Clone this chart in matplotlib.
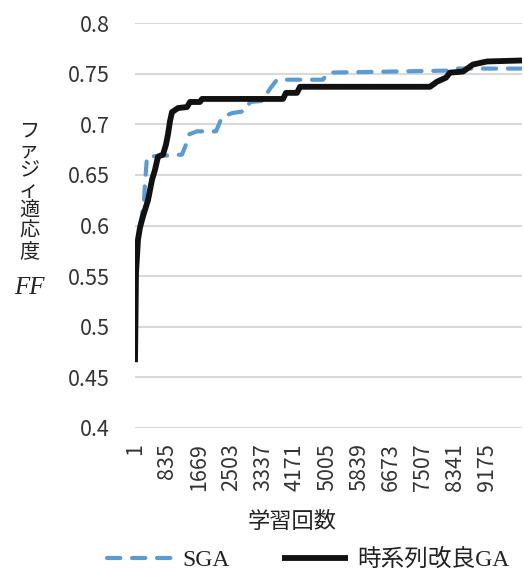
import matplotlib
matplotlib.use("Agg")
import matplotlib.pyplot as plt

plt.rcParams['font.family'] = ['Noto Sans CJK JP', 'DejaVu Sans']

# SGA (dashed blue)
sga_gen = [1, 53, 131, 183, 236, 262, 314, 1226, 1330, 1408, 1617, 2112, 2268,
           2529, 2868, 2998, 3311, 3519, 3702, 4900, 5031, 8210, 8340, 10087]
sga_ff = [0.552, 0.580, 0.600, 0.610, 0.625, 0.642, 0.668, 0.670, 0.680, 0.690,
          0.693, 0.693, 0.707, 0.711, 0.713, 0.722, 0.723, 0.735, 0.744, 0.744,
          0.751, 0.753, 0.755, 0.755]

# 時系列改良GA (solid black)
ts_gen = [1, 27, 79, 131, 209, 340, 444, 522, 600, 731, 809, 861, 913, 965,
          1122, 1356, 1434, 1695, 1747, 3858, 3936, 4223, 4301, 7689, 7871,
          8106, 8210, 8549, 8809, 9174, 10087]
ts_ff = [0.465, 0.553, 0.586, 0.598, 0.609, 0.625, 0.645, 0.655, 0.668, 0.670,
         0.680, 0.690, 0.703, 0.712, 0.716, 0.717, 0.722, 0.722, 0.725, 0.725,
         0.731, 0.731, 0.737, 0.737, 0.742, 0.746, 0.751, 0.752, 0.759, 0.762,
         0.763]

xticks = [1, 835, 1669, 2503, 3337, 4171, 5005, 5839, 6673, 7507, 8341, 9175]
yticks = [0.4, 0.45, 0.5, 0.55, 0.6, 0.65, 0.7, 0.75, 0.8]
ytick_labels = ["0.4", "0.45", "0.5", "0.55", "0.6", "0.65", "0.7", "0.75", "0.8"]

serif = ['Liberation Serif', 'Noto Sans CJK JP']

fig = plt.figure(figsize=(5.24, 5.75), dpi=100)
ax = fig.add_axes([135/524, 1 - 428/575, 387/524, 405/575])

ax.plot(sga_gen, sga_ff, color='#5B9BD5', lw=3.0, dashes=(3.2, 2.8),
        dash_capstyle='round', solid_capstyle='round', label='SGA', zorder=3)
ax.plot(ts_gen, ts_ff, color='#111111', lw=4.2, solid_capstyle='butt',
        label='時系列改良GA', zorder=4)

ax.set_xlim(1, 10087)
ax.set_ylim(0.4, 0.8)
ax.set_yticks(yticks)
ax.set_yticklabels(ytick_labels)
ax.set_xticks(xticks)
ax.set_xticklabels([str(v) for v in xticks], rotation=90)
ax.tick_params(axis='both', length=0, labelsize=15.5, colors='#333333')
ax.tick_params(axis='y', pad=18)
ax.tick_params(axis='x', pad=11)
ax.grid(axis='y', color='#d9d9d9', lw=1.5)
ax.set_axisbelow(True)
for s in ax.spines.values():
    s.set_visible(False)

# axis titles
fig.text(292/524, 1 - 523/575, '学習回数', ha='center', va='center',
         fontsize=16, family=serif, color='#222222')
fig.text(29/524, 1 - 192/575, 'フ\nァ\nジ\nィ\n適\n応\n度', ha='center', va='center',
         fontsize=14.5, linespacing=1.08, family=serif, color='#222222')
fig.text(29/524, 1 - 288/575, 'FF', ha='center', va='center', fontsize=18,
         family='Liberation Serif', style='italic', color='#222222')

leg = fig.legend(loc='center', bbox_to_anchor=(308/524, 1 - 560/575), ncol=2,
                 frameon=False, handlelength=2.8, columnspacing=2.2,
                 handletextpad=0.4, prop={'family': serif, 'size': 17})
for t in leg.get_texts():
    t.set_color('#222222')

fig.savefig('out.png', dpi=100)
